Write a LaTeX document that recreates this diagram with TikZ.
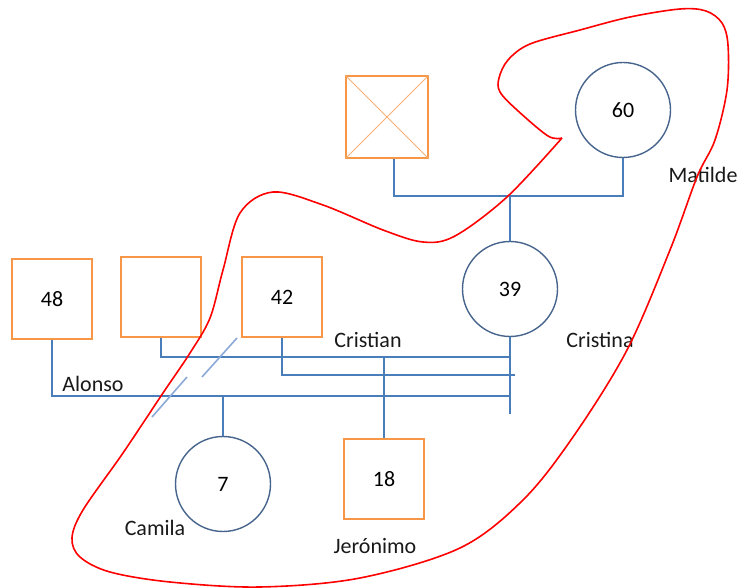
\documentclass[tikz,border=0pt]{standalone}
\usepackage{fontspec}
\setmainfont{Carlito}
\begin{document}
\begin{tikzpicture}[x=1pt,y=-1pt,
  font=\fontsize{22}{26}\selectfont,
  pbox/.style={draw=boxorange,line width=1.8pt,minimum size=80pt,inner sep=0pt},
  pcirc/.style={circle,draw=circblue,line width=1.4pt,minimum size=95pt,inner sep=0pt},
  conn/.style={draw=linblue,line width=1.6pt},
  slashln/.style={draw=slashblue,line width=1.6pt},
  lbl/.style={inner sep=0pt,text=black!90}]
\definecolor{boxorange}{RGB}{247,150,70}
\definecolor{circblue}{RGB}{70,100,140}
\definecolor{linblue}{RGB}{74,126,187}
\definecolor{slashblue}{RGB}{140,170,215}
\useasboundingbox (0,0) rectangle (740,588);
% nodes
\node[pbox,minimum size=82pt] (xb) at (387,117) {};
\draw[boxorange!75,line width=1pt] (xb.north west) -- (xb.south east);
\draw[boxorange!75,line width=1pt] (xb.north east) -- (xb.south west);
\node[pcirc] (c60) at (623,110) {60};
\node[pcirc] (c39) at (510,289) {39};
\node[pbox] (b48) at (52,299) {48};
\node[pbox] (bx) at (161,297) {};
\node[pbox] (b42) at (282,297) {42};
\node[pcirc] (c7) at (223,484) {7};
\node[pbox] (b18) at (384,479) {18};
% labels
\node[lbl] (lm) at (703,175) {Matilde};
\node[lbl] (lcr) at (600,340) {Cristina};
\node[lbl] (lci) at (368,340) {Cristian};
\node[lbl] (la) at (93,384) {Alonso};
\node[lbl] (lca) at (155,528) {Camila};
\node[lbl] (lj) at (375,546) {Jerónimo};
% junctions
\coordinate (jt) at (510,196);
\coordinate (bar) at (510,414);
\coordinate (r1) at (510,357);
\coordinate (r2) at (515,375);
\coordinate (r3) at (510,396);
\coordinate (k1) at (384,357);
\coordinate (k2) at (223,396);
% connectors
\draw[conn] ([xshift=7pt]xb.south) |- (jt) -| (c60.south);
\draw[conn] (jt) -- (c39.north);
\draw[conn] (c39.south) -- (bar);
\draw[conn] (bx.south) |- (r1);
\draw[conn] (b42.south) |- (r2);
\draw[conn] (b48.south) |- (r3);
\draw[conn] (k1) -- (b18.north);
\draw[conn] (k2) -- (c7.north);
% divorce slash
\draw[slashln] (237,338) -- (202,377);
\draw[slashln] (187,377) -- (152,417);
% red boundary
\draw[red,line width=1.6pt] plot[smooth,tension=0.55] coordinates {
(562,138) (548,136) (517,110) (500,92) (499,78) (508,60) (530,44) (580,30)
(630,17) (680,9) (706,11) (722,23) (728,45) (727,90) (715,140) (697,177)
(670,250) (627,350) (573,437) (523,500) (460,548) (360,578) (260,587)
(170,582) (110,572) (80,557) (72,538) (83,510) (123,453) (163,393) (190,353)
(210,318) (223,270) (240,213) (273,192) (323,205) (383,230) (423,242)
(455,236) (507,197) (562,138)};
\end{tikzpicture}
\end{document}
